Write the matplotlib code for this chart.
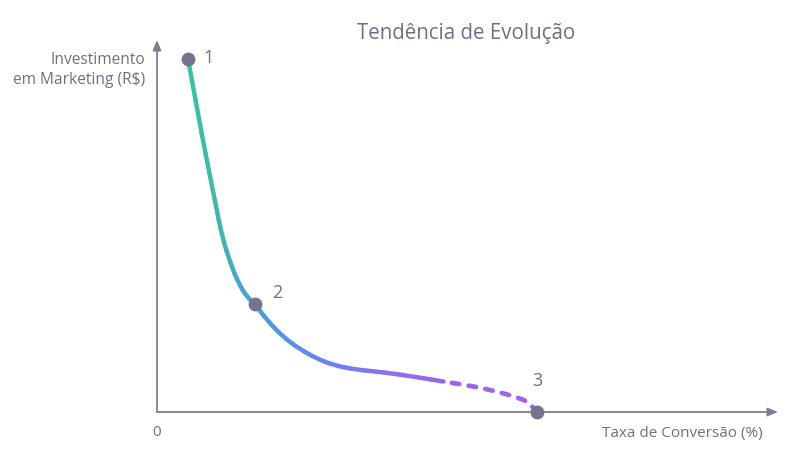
import numpy as np
import matplotlib.pyplot as plt
from matplotlib.path import Path
from matplotlib.collections import LineCollection
from matplotlib.colors import LinearSegmentedColormap

# Curva (escala 0-100 nos dois eixos)
curva_x = [5.0, 5.7, 6.7, 7.7, 9.4, 10.5, 11.8, 13.1, 14.5, 15.8, 17.7, 20.3, 23.0, 25.7,
           28.4, 31.9, 36.4, 41.8, 46.4, 48.8, 52.5, 55.8, 58.5, 60.1, 61.2]
curva_y = [94.9, 88.4, 79.4, 70.4, 56.2, 47.0, 40.1, 34.7, 30.9, 29.0, 24.7, 20.2, 16.9, 14.4,
           12.6, 11.4, 10.7, 9.4, 8.1, 7.5, 6.4, 5.0, 3.7, 2.3, 0.0]
x_fim_solido = 46.4  # a partir daqui a linha é tracejada

pontos_x = [5.0, 15.8, 61.2]
pontos_y = [94.9, 29.0, 0.0]
pontos_rotulo = ["1", "2", "3"]

titulo = "Tendência de Evolução"
rotulo_x = "Taxa de Conversão (%)"
rotulo_y = "Investimento\nem Marketing (R$)"

COR_TEXTO = "#6f6f86"
COR_EIXO = "#7d7d96"
COR_PONTO = "#74748c"

plt.rcParams["font.family"] = ["Open Sans", "DejaVu Sans"]

fig = plt.figure(figsize=(7.86, 4.5), dpi=100)
ax = fig.add_axes([157 / 786, 38 / 450, 621 / 786, 372 / 450])
ax.set_xlim(0, 100)
ax.set_ylim(0, 100)
ax.axis("off")

# eixos com setas
seta = dict(arrowstyle="-|>,head_length=0.6,head_width=0.25", color=COR_EIXO, lw=1.3, shrinkA=0, shrinkB=0)
ax.annotate("", xy=(100, 0), xytext=(0, 0), arrowprops=seta, annotation_clip=False)
ax.annotate("", xy=(0, 100), xytext=(0, 0), arrowprops=seta, annotation_clip=False)

# curva suave: spline quadrática (Path com CURVE3) achatada pelo próprio matplotlib
p = np.column_stack([curva_x, curva_y])
verts = [p[0]]
codes = [Path.MOVETO]
for i in range(1, len(p) - 1):
    fim = p[i + 1] if i == len(p) - 2 else (p[i] + p[i + 1]) / 2
    verts += [p[i], fim]
    codes += [Path.CURVE3, Path.CURVE3]
caminho = Path(verts, codes)
poly = caminho.to_polygons(transform=ax.transData, closed_only=False)[0]
liso = ax.transData.inverted().transform(poly)

# gradiente pelo comprimento da curva
comp = np.concatenate([[0], np.cumsum(np.hypot(np.diff(poly[:, 0]), np.diff(poly[:, 1])))])
frac = comp / comp[-1]
cmap = LinearSegmentedColormap.from_list(
    "evol", [(0.0, "#36c3a0"), (0.3, "#3fb8ae"), (0.45, "#47a2d4"), (0.58, "#5a8cf2"),
             (0.72, "#8c6ff2"), (0.82, "#9d64f0"), (1.0, "#a35ff0")])

solido = liso[:, 0] <= x_fim_solido
k = int(solido.sum())
segs = np.stack([liso[:k - 1], liso[1:k]], axis=1)
cores = cmap((frac[:k - 1] + frac[1:k]) / 2)
lc = LineCollection(segs, colors=cores, linewidths=3.2, capstyle="round", joinstyle="round", zorder=3)
ax.add_collection(lc)

ax.plot(liso[k - 1:, 0], liso[k - 1:, 1], color="#a062f0", lw=3.4,
        linestyle=(1.8, (1.6, 2.0)), dash_capstyle="round", zorder=3, clip_on=False)

ax.scatter(pontos_x, pontos_y, s=80, color=COR_PONTO, zorder=5, clip_on=False)
deslocamentos = [(15, 1), (16, 8), (0, 22)]
for x, y, r, d in zip(pontos_x, pontos_y, pontos_rotulo, deslocamentos):
    ax.annotate(r, (x, y), xytext=d, textcoords="offset points", fontsize=13, color=COR_TEXTO,
                ha="center", va="center", annotation_clip=False)

fig.text(466 / 786, 1 - 34 / 450, titulo, fontsize=14.8, color=COR_TEXTO, ha="center", va="center")
fig.text(145 / 786, 1 - 70 / 450, rotulo_y, fontsize=11.2, color=COR_TEXTO, ha="right", va="center",
         linespacing=1.4)
fig.text(763 / 786, 1 - 433 / 450, rotulo_x, fontsize=11, color=COR_TEXTO, ha="right", va="center")
fig.text(157 / 786, 1 - 433 / 450, "0", fontsize=11, color=COR_TEXTO, ha="center", va="center")

fig.savefig("out.png", dpi=100, facecolor="white")
